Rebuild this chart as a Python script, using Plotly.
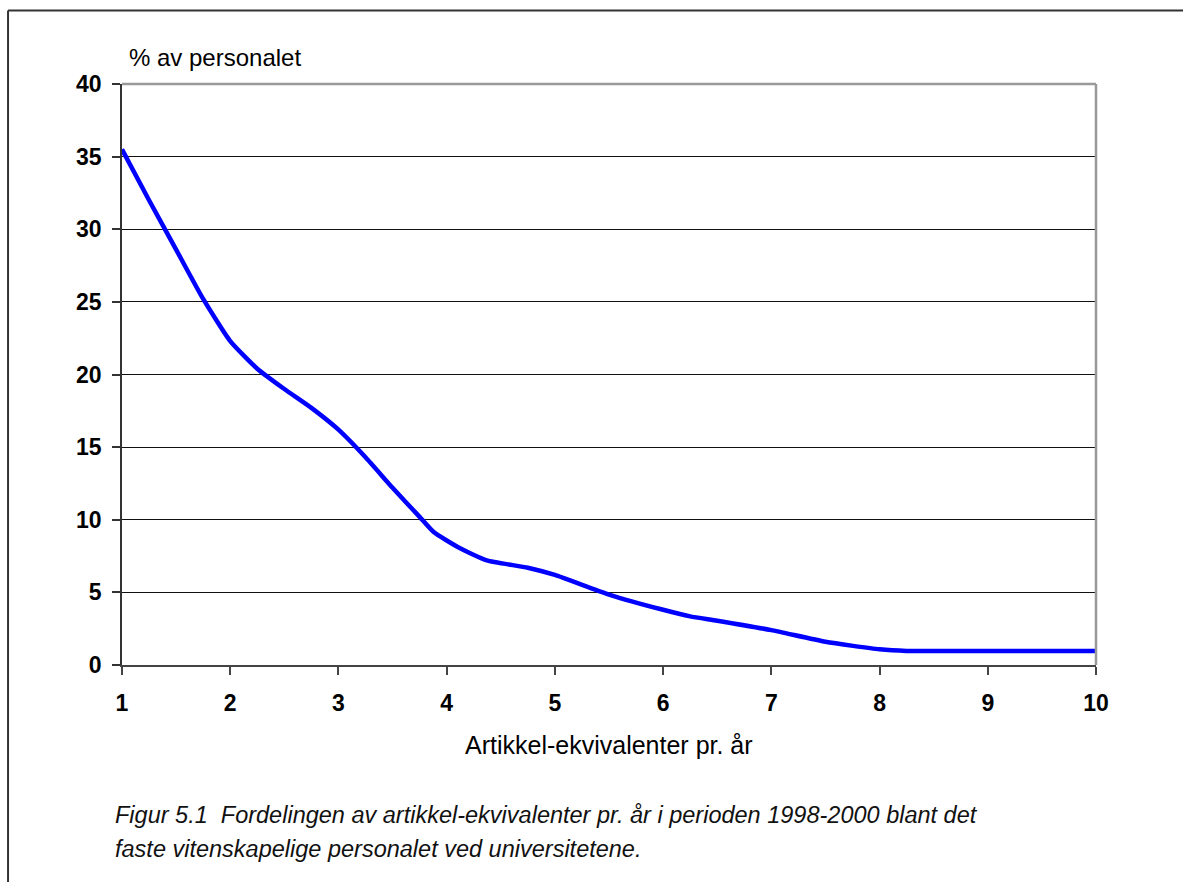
import plotly.graph_objects as go

# Data
artikkel_x = [1, 1.25, 1.5, 1.75, 2, 2.25, 2.5, 2.75, 3, 3.25, 3.5, 3.75, 3.88,
              4.12, 4.37, 4.75, 5, 5.5, 6, 6.25, 6.5, 7, 7.5, 8, 8.25, 9, 10]
personale_pct = [35.5, 32.0, 28.6, 25.2, 22.3, 20.4, 19.0, 17.7, 16.2, 14.3, 12.2, 10.2, 9.15,
                 8.05, 7.2, 6.7, 6.2, 4.85, 3.8, 3.35, 3.05, 2.4, 1.6, 1.08, 0.97, 0.97, 0.97]
x_ticks = [1, 2, 3, 4, 5, 6, 7, 8, 9, 10]
y_ticks = [0, 5, 10, 15, 20, 25, 30, 35, 40]

y_title = "% av personalet"
x_title = "Artikkel-ekvivalenter pr. år"
caption_1 = "Figur 5.1  Fordelingen av artikkel-ekvivalenter pr. år i perioden 1998-2000 blant det"
caption_2 = "faste vitenskapelige personalet ved universitetene."

FONT = "Liberation Sans, Arial, sans-serif"

fig = go.Figure()
fig.add_trace(go.Scatter(
    x=artikkel_x, y=personale_pct, mode="lines",
    line=dict(color="#0000FF", width=4.5, shape="spline", smoothing=0.5),
    hoverinfo="skip", showlegend=False,
))

fig.update_layout(
    width=1183, height=882,
    margin=dict(l=122, r=87, t=84, b=217),
    paper_bgcolor="white", plot_bgcolor="white",
    font=dict(family=FONT, color="black"),
    xaxis=dict(
        range=[1, 10], tickvals=x_ticks, ticktext=[str(v) for v in x_ticks],
        showgrid=False, zeroline=False,
        showline=True, linecolor="#444444", linewidth=2,
        ticks="outside", ticklen=8, tickwidth=1.5, tickcolor="#444444",
        tickfont=dict(family=FONT, size=23, color="black", weight="bold"),
        ticklabelstandoff=8,
    ),
    yaxis=dict(
        range=[0, 40], tickvals=y_ticks, ticktext=[str(v) for v in y_ticks],
        showgrid=True, gridcolor="#111111", gridwidth=1.2, zeroline=False,
        showline=True, linecolor="#333333", linewidth=1.5,
        ticks="outside", ticklen=8, tickwidth=1.5, tickcolor="#333333",
        tickfont=dict(family=FONT, size=23, color="black", weight="bold"),
        ticklabelstandoff=6,
    ),
)

# plot-area border on top and right (gray)
fig.add_shape(type="line", xref="paper", yref="paper", x0=0, x1=1, y0=1, y1=1,
              line=dict(color="#999999", width=2.5))
fig.add_shape(type="line", xref="paper", yref="paper", x0=1, x1=1, y0=0, y1=1,
              line=dict(color="#999999", width=2.5))

# outer frame (top and left edges visible)
fig.add_shape(type="line", xref="paper", yref="paper", x0=-0.117, x1=1.2, y0=1.1265, y1=1.1265,
              line=dict(color="#333333", width=2))
fig.add_shape(type="line", xref="paper", yref="paper", x0=-0.117, x1=-0.117, y0=-0.5, y1=1.1265,
              line=dict(color="#333333", width=2))

fig.add_annotation(text=y_title, xref="paper", yref="paper", x=0.005, y=1.0448,
                   xanchor="left", yanchor="middle", showarrow=False,
                   font=dict(family=FONT, size=24, color="black"))
fig.add_annotation(text=x_title, xref="paper", yref="paper", x=0.4995, y=-0.1377,
                   xanchor="center", yanchor="middle", showarrow=False,
                   font=dict(family=FONT, size=25, color="black"))
fig.add_annotation(text="<i>" + caption_1 + "</i>", xref="paper", yref="paper", x=-0.0092, y=-0.2582,
                   xanchor="left", yanchor="middle", showarrow=False,
                   font=dict(family=FONT, size=23.5, color="#111111"))
fig.add_annotation(text="<i>" + caption_2 + "</i>", xref="paper", yref="paper", x=-0.0092, y=-0.3167,
                   xanchor="left", yanchor="middle", showarrow=False,
                   font=dict(family=FONT, size=23.5, color="#111111"))

fig.write_html("out.html")
